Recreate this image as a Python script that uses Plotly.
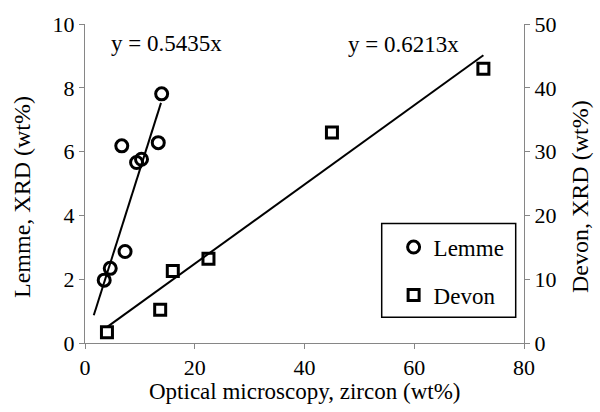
import plotly.graph_objects as go

# ---- data ----
lemme_x = [3.5, 4.6, 6.7, 7.3, 9.4, 10.3, 13.35, 13.97]
lemme_y = [1.97, 2.34, 6.18, 2.87, 5.66, 5.76, 6.28, 7.81]
devon_x = [4.0, 13.7, 16.0, 22.5, 45.0, 72.6]
devon_y = [1.7, 5.2, 11.3, 13.2, 33.0, 43.0]

lemme_slope = 0.5435
devon_slope = 0.6213
lemme_fit_x = [1.6, 13.85]
devon_fit_x = [4.0, 72.6]

x_ticks = [0, 20, 40, 60, 80]
y_ticks = [0, 2, 4, 6, 8, 10]
y2_ticks = [0, 10, 20, 30, 40, 50]

FONT = "Liberation Serif"
AX = "#868686"

fig = go.Figure()

fig.add_trace(go.Scatter(
    x=lemme_fit_x, y=[lemme_slope * v for v in lemme_fit_x],
    mode="lines", line=dict(color="black", width=2), showlegend=False,
    hoverinfo="skip"))
fig.add_trace(go.Scatter(
    x=devon_fit_x, y=[devon_slope * v for v in devon_fit_x],
    mode="lines", line=dict(color="black", width=2), showlegend=False,
    yaxis="y2", hoverinfo="skip"))

fig.add_trace(go.Scatter(
    x=lemme_x, y=lemme_y, mode="markers", name="Lemme", legendgroup="a",
    marker=dict(symbol="circle", size=12, color="rgba(0,0,0,0)",
                line=dict(color="black", width=3))))
fig.add_trace(go.Scatter(
    x=devon_x, y=devon_y, mode="markers", name="Devon", legendgroup="b",
    yaxis="y2",
    marker=dict(symbol="square", size=11, color="rgba(0,0,0,0)",
                line=dict(color="black", width=3))))

axis_common = dict(
    showgrid=False, zeroline=False, showline=True, linecolor=AX, linewidth=1,
    ticks="outside", ticklen=5, tickcolor=AX, tickwidth=1,
    tickfont=dict(family=FONT, size=22, color="black"))


def px_x(p):
    return (p - 85) / 439


def px_y(p):
    return (342.7 - p) / 322.7


def note(text, x, y, angle=0, size=23):
    return dict(text=text, xref="paper", yref="paper", x=px_x(x), y=px_y(y),
                xanchor="center", yanchor="middle", textangle=angle,
                showarrow=False, font=dict(family=FONT, size=size, color="black"))


fig.update_layout(
    width=600, height=412,
    margin=dict(l=85, r=76, t=20, b=69),
    paper_bgcolor="white", plot_bgcolor="white",
    font=dict(family=FONT, size=22, color="black"),
    xaxis=dict(range=[0, 80], tickvals=x_ticks, **axis_common),
    yaxis=dict(range=[0, 10], tickvals=y_ticks, **axis_common),
    yaxis2=dict(range=[0, 50], tickvals=y2_ticks, overlaying="y",
                side="right", **axis_common),
    showlegend=True,
    legend=dict(x=0.703, y=0.368, xanchor="left", yanchor="top",
                bgcolor="rgba(0,0,0,0)", borderwidth=0,
                font=dict(family=FONT, size=23, color="black"),
                tracegroupgap=15, traceorder="grouped", itemwidth=30),
    shapes=[dict(type="rect", xref="paper", yref="paper",
                 x0=px_x(381.7), x1=px_x(515.7), y0=px_y(316.7), y1=px_y(221.7),
                 line=dict(color="black", width=1.5))],
    annotations=[
        note("y = 0.5435x", 166, 40),
        note("y = 0.6213x", 403, 41),
        note("Optical microscopy, zircon (wt%)", 304, 392),
        note("Lemme, XRD (wt%)", 22, 195, -90, 24),
        note("Devon, XRD (wt%)", 580, 195, -90, 24),
    ],
)

fig.write_html("out.html")
